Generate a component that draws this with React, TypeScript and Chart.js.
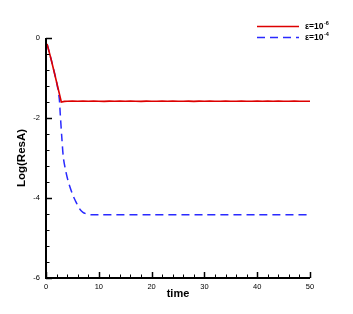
import { useEffect, useRef } from "react";
import { Chart, registerables } from "chart.js";

Chart.register(...registerables);

// ---- data ----
const redTime = [0.2, 1, 2, 2.9, 3.5, 4, 5, 6, 7, 8, 9, 10, 11, 12, 13, 14, 15, 16, 17, 18, 19, 20, 21, 22, 23, 24, 25, 26, 27, 28, 29, 30, 31, 32, 33, 34, 35, 36, 37, 38, 39, 40, 41, 42, 43, 44, 45, 46, 47, 48, 49, 50];
const redLog = [-0.15, -0.55, -1.1, -1.6, -1.585, -1.58, -1.575, -1.58, -1.578, -1.583, -1.576, -1.58, -1.584, -1.578, -1.58, -1.576, -1.582, -1.579, -1.58, -1.585, -1.577, -1.58, -1.583, -1.578, -1.58, -1.576, -1.582, -1.58, -1.578, -1.584, -1.579, -1.58, -1.577, -1.582, -1.58, -1.578, -1.583, -1.58, -1.576, -1.581, -1.58, -1.578, -1.583, -1.579, -1.58, -1.577, -1.582, -1.58, -1.578, -1.583, -1.58, -1.58];

const blueTime = [0.2, 1, 2, 2.5, 2.7, 3, 3.3, 3.7, 4.2, 5, 5.5, 6.4, 7, 7.7, 8.5, 10, 20, 30, 40, 50];
const blueLog = [-0.15, -0.55, -1.1, -1.5, -1.9, -2.5, -3.0, -3.3, -3.58, -3.9, -4.05, -4.28, -4.36, -4.4, -4.42, -4.42, -4.42, -4.42, -4.42, -4.42];

const seriesNames = ["ε=10", "ε=10"];
const seriesExps = ["-6", "-4"];
const seriesColors = ["#dd0000", "#2a2aff"];

const xTickValues = [0, 10, 20, 30, 40, 50];
const yTickValues = [0, -2, -4, -6];
const xMinorStep = 2;
const yMinorStep = 0.4;

const axesPlugin = {
  id: "tecAxes",
  afterDatasetsDraw(chart: any) {
    const ctx = chart.ctx;
    const { left, right, top, bottom } = chart.chartArea;
    const xs = chart.scales.x;
    const ys = chart.scales.y;
    ctx.save();
    ctx.strokeStyle = "#000";
    for (let v = xs.min; v <= xs.max + 1e-9; v += xMinorStep) {
      const px = Math.round(xs.getPixelForValue(v)) + 0.5;
      const major = xTickValues.some((t) => Math.abs(t - v) < 1e-6);
      ctx.lineWidth = major ? 1.5 : 1;
      ctx.beginPath();
      ctx.moveTo(px, bottom);
      ctx.lineTo(px, bottom - (major ? 6 : 3.5));
      ctx.stroke();
    }
    for (let v = ys.max; v >= ys.min - 1e-9; v -= yMinorStep) {
      const py = Math.round(ys.getPixelForValue(v)) + 0.5;
      const major = yTickValues.some((t) => Math.abs(t - v) < 1e-6);
      ctx.lineWidth = major ? 1.5 : 1;
      ctx.beginPath();
      ctx.moveTo(left, py);
      ctx.lineTo(left + (major ? 6 : 3.5), py);
      ctx.stroke();
    }
    ctx.lineWidth = 2;
    ctx.beginPath();
    ctx.moveTo(left, top);
    ctx.lineTo(left, bottom);
    ctx.lineTo(right, bottom);
    ctx.stroke();
    ctx.restore();
  },
};

const legendPlugin = {
  id: "tecLegend",
  afterDraw(chart: any) {
    const ctx = chart.ctx;
    ctx.save();
    const rows = [26, 37];
    chart.data.datasets.forEach((ds: any, i: number) => {
      const y = rows[i] + 0.5;
      ctx.strokeStyle = ds.borderColor;
      ctx.lineWidth = ds.borderWidth;
      ctx.setLineDash(ds.borderDash || []);
      ctx.beginPath();
      ctx.moveTo(257, y);
      ctx.lineTo(299, y);
      ctx.stroke();
      ctx.setLineDash([]);
      ctx.fillStyle = "#000";
      ctx.textBaseline = "alphabetic";
      ctx.textAlign = "left";
      ctx.font = "bold 8.5px 'Liberation Sans', Arial, sans-serif";
      const base = rows[i] + 3;
      ctx.fillText(seriesNames[i], 305, base);
      const w = ctx.measureText(seriesNames[i]).width;
      ctx.font = "bold 5.5px 'Liberation Sans', Arial, sans-serif";
      ctx.fillText(seriesExps[i], 305 + w + 0.5, base - 4);
    });
    ctx.restore();
  },
};

export default function App() {
  const ref = useRef<HTMLCanvasElement | null>(null);
  useEffect(() => {
    if (!ref.current) return;
    const chart = new Chart(ref.current, {
      type: "line",
      data: {
        datasets: [
          {
            label: seriesNames[0] + seriesExps[0],
            data: redTime.map((t, i) => ({ x: t, y: redLog[i] })),
            borderColor: seriesColors[0],
            borderWidth: 1.6,
            pointRadius: 0,
            tension: 0,
            fill: false,
          },
          {
            label: seriesNames[1] + seriesExps[1],
            data: blueTime.map((t, i) => ({ x: t, y: blueLog[i] })),
            borderColor: seriesColors[1],
            borderWidth: 1.5,
            borderDash: [8, 5],
            pointRadius: 0,
            tension: 0.3,
            fill: false,
          },
        ],
      },
      options: {
        animation: false,
        responsive: false,
        devicePixelRatio: 1,
        layout: { padding: { top: 38, right: 43, left: 0, bottom: 0 } },
        plugins: { legend: { display: false }, tooltip: { enabled: false } },
        scales: {
          x: {
            type: "linear",
            min: 0,
            max: 50,
            afterBuildTicks: (s: any) => {
              s.ticks = xTickValues.map((v) => ({ value: v }));
            },
            ticks: {
              color: "#000",
              font: { size: 7.5, family: "'Liberation Sans', Arial, sans-serif" },
              padding: 4,
              maxRotation: 0,
            },
            grid: { display: false, drawTicks: false },
            border: { display: false },
            title: {
              display: true,
              text: "time",
              color: "#000",
              font: { size: 11, weight: "bold", family: "'Liberation Sans', Arial, sans-serif" },
              padding: { top: 13, bottom: 13 },
            },
            afterFit: (s: any) => {
              s.height = 36;
            },
          },
          y: {
            type: "linear",
            min: -6,
            max: 0,
            afterBuildTicks: (s: any) => {
              s.ticks = yTickValues.map((v) => ({ value: v }));
            },
            ticks: {
              color: "#000",
              font: { size: 7.5, family: "'Liberation Sans', Arial, sans-serif" },
              padding: 6,
            },
            grid: { display: false, drawTicks: false },
            border: { display: false },
            title: {
              display: true,
              text: "Log(ResA)",
              color: "#000",
              font: { size: 11.5, weight: "bold", family: "'Liberation Sans', Arial, sans-serif" },
              padding: { top: 15, bottom: 15 },
            },
            afterFit: (s: any) => {
              s.width = 46;
            },
          },
        },
      } as any,
      plugins: [axesPlugin, legendPlugin],
    });
    return () => chart.destroy();
  }, []);
  return (
    <div style={{ position: "fixed", left: 0, top: 0, width: 353, height: 314, background: "#fff" }}>
      <canvas ref={ref} width={353} height={314} style={{ display: "block", width: 353, height: 314 }} />
    </div>
  );
}
